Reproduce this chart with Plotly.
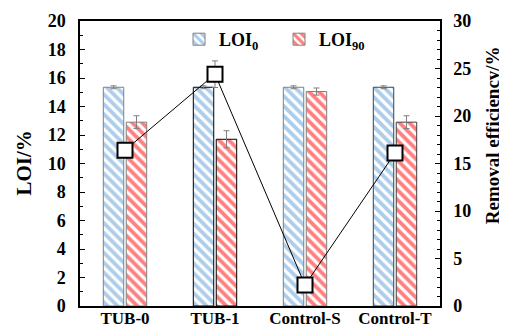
import plotly.graph_objects as go

categories = ["TUB-0", "TUB-1", "Control-S", "Control-T"]
loi0 = [15.35, 15.35, 15.35, 15.35]
loi0_err = [0.1, 0.1, 0.1, 0.1]
loi90 = [12.9, 11.7, 15.05, 12.9]
loi90_err = [0.45, 0.6, 0.25, 0.45]
removal = [16.4, 24.4, 2.2, 16.1]
removal_err = [0.8, 1.4, 0.2, 0.8]
left_ticks = [0, 2, 4, 6, 8, 10, 12, 14, 16, 18, 20]
right_ticks = [0, 5, 10, 15, 20, 25, 30]

font_family = "Liberation Serif"
outline = ["#808080", "#000000", "#808080", "#404040"]

fig = go.Figure()
fig.add_trace(go.Bar(
    x=categories, y=loi0, name="<b>LOI<sub>0</sub></b>",
    marker=dict(color="white", line=dict(color=outline, width=1),
                pattern=dict(shape="\\", fgcolor="#5b9bd5", bgcolor="white", size=7, solidity=0.55)),
    error_y=dict(type="data", array=loi0_err, color="#7f7f7f", thickness=1, width=3),
))
fig.add_trace(go.Bar(
    x=categories, y=loi90, name="<b>LOI<sub>90</sub></b>",
    marker=dict(color="white", line=dict(color=outline, width=1),
                pattern=dict(shape="\\", fgcolor="#ff0000", bgcolor="white", size=7, solidity=0.55)),
    error_y=dict(type="data", array=loi90_err, color="#7f7f7f", thickness=1, width=3),
))
fig.add_trace(go.Scatter(
    x=categories, y=removal, yaxis="y2", mode="lines+markers", showlegend=False,
    line=dict(color="black", width=1),
    marker=dict(symbol="square", size=15, color="white", line=dict(color="black", width=2)),
    error_y=dict(type="data", array=removal_err, color="#7f7f7f", thickness=1, width=3),
))

fig.update_layout(
    width=499, height=323,
    margin=dict(l=72, r=67, t=13, b=25, autoexpand=False),
    plot_bgcolor="white", paper_bgcolor="white",
    barmode="group", bargap=0.49, bargroupgap=0.11,
    font=dict(family=font_family, color="black"),
    showlegend=True,
    legend=dict(orientation="h", x=0.275, y=1.0, xanchor="left", yanchor="top",
                font=dict(family=font_family, size=18, color="black"),
                bgcolor="rgba(0,0,0,0)", entrywidth=55, entrywidthmode="pixels", tracegroupgap=0),
    xaxis=dict(showline=True, linecolor="black", linewidth=1.5, mirror=True, ticks="",
               automargin=False, tickvals=categories,
               ticktext=["<b>" + c + "</b>" for c in categories],
               ticklabelstandoff=-4,
               tickfont=dict(family=font_family, size=17, color="black")),
    yaxis=dict(range=[0, 20], tickvals=left_ticks, ticktext=["<b>%d</b>" % v for v in left_ticks],
               showline=True, linecolor="black", linewidth=1.5, automargin=False,
               ticks="inside", ticklen=5, tickcolor="black", showgrid=False, zeroline=False,
               ticklabelstandoff=9,
               minor=dict(dtick=1, ticks="inside", ticklen=3, tickcolor="black"),
               tickfont=dict(family=font_family, size=18, color="black")),
    yaxis2=dict(range=[0, 30], tickvals=right_ticks, ticktext=["<b>%d</b>" % v for v in right_ticks],
                overlaying="y", side="right", showline=True, automargin=False,
                linecolor="black", linewidth=1.5, ticks="inside", ticklen=5, tickcolor="black",
                showgrid=False, zeroline=False, ticklabelstandoff=8,
                minor=dict(dtick=1, ticks="inside", ticklen=3, tickcolor="black"),
                tickfont=dict(family=font_family, size=18, color="black")),
    annotations=[
        dict(text="<b>LOI/%</b>", xref="paper", yref="paper", x=-0.158, y=0.5,
             xanchor="center", yanchor="middle", textangle=-90, showarrow=False,
             font=dict(family=font_family, size=21, color="black")),
        dict(text="<b>Removal efficiency/%</b>", xref="paper", yref="paper", x=1.145, y=0.6,
             xanchor="center", yanchor="middle", textangle=-90, showarrow=False,
             font=dict(family=font_family, size=19, color="black")),
    ],
)
fig.write_html("out.html")
